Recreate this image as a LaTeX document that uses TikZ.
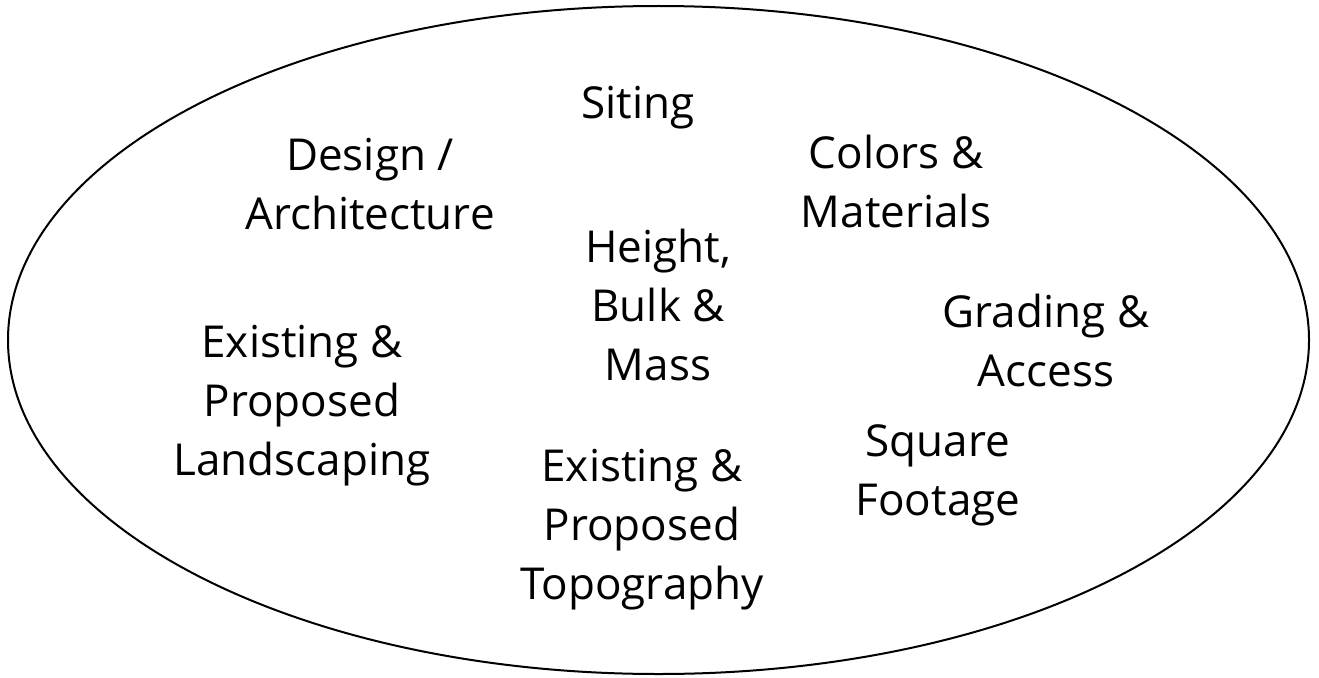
\documentclass[tikz,border=0pt]{standalone}
\usepackage{fontspec}
\setmainfont{Open Sans}
\usetikzlibrary{shapes.geometric}
\begin{document}
\begin{tikzpicture}[x=1pt,y=-1pt,
  lbl/.style={align=center,inner sep=0pt,font=\fontsize{44}{59}\selectfont}]
\useasboundingbox (0,0) rectangle (1319,677);
\node[draw,line width=2pt,ellipse,minimum width=1301,minimum height=668,inner sep=0pt] (oval) at (658.5,340) {};
\node[lbl] (siting) at (638,108) {Siting};
\node[lbl] (design) at (370,184) {Design /\\Architecture};
\node[lbl] (colors) at (896,181) {Colors \&\\Materials};
\node[lbl] (height) at (658,305) {Height,\\Bulk \&\\Mass};
\node[lbl] (grading) at (1046,340) {Grading \&\\Access};
\node[lbl] (landsc) at (302,406) {Existing \&\\Proposed\\Landscaping};
\node[lbl] (topo) at (642,530) {Existing \&\\Proposed\\Topography};
\node[lbl] (square) at (938,475) {Square\\Footage};
\end{tikzpicture}
\end{document}
